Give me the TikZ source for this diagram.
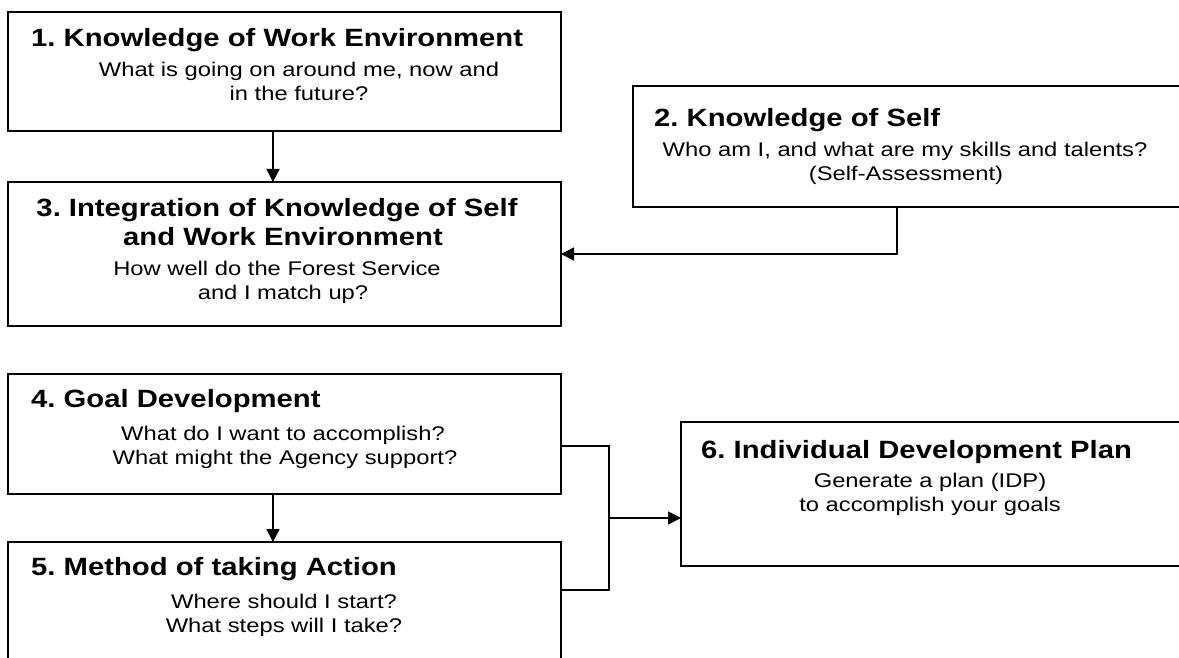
\documentclass[tikz,border=0pt]{standalone}
\usepackage{fontspec}
\setmainfont{Liberation Sans}[FakeStretch=1.2]
\newfontfamily\ttlfont{Liberation Sans}[FakeStretch=1.17]
\usetikzlibrary{arrows.meta}
\frenchspacing
\begin{document}
\begin{tikzpicture}[x=1pt,y=-1pt,
  box/.style={draw=black,line width=1.6pt,rectangle,inner sep=0pt,outer sep=0pt,anchor=north west,fill=white},
  ttl/.style={font=\ttlfont\fontsize{25}{28}\selectfont\bfseries,anchor=base west,inner sep=0pt},
  sub/.style={font=\fontsize{19.8}{23}\selectfont,anchor=base,inner sep=0pt},
  conn/.style={line width=1.6pt,draw=black},
  arr/.style={conn,-{Triangle[length=13pt,width=13pt]}}]
\useasboundingbox (0,0) rectangle (1179,658);
\clip (0,0) rectangle (1179,658);
\fill[white] (0,0) rectangle (1179,658);
% boxes
\node[box,minimum width=553pt,minimum height=119pt] (b1) at (8,12) {};
\node[box,minimum width=560pt,minimum height=121pt] (b2) at (633,86) {};
\node[box,minimum width=553pt,minimum height=144pt] (b3) at (8,182) {};
\node[box,minimum width=553pt,minimum height=120pt] (b4) at (8,374) {};
\node[box,minimum width=553pt,minimum height=130pt] (b5) at (8,542) {};
\node[box,minimum width=560pt,minimum height=144pt] (b6) at (681,422) {};
% texts box 1
\node[ttl] (t1) at (31,47) {1. Knowledge of Work Environment};
\node[sub] (s1a) at (299,77) {What is going on around me, now and};
\node[sub] (s1b) at (299,101) {in the future?};
% box 2
\node[ttl] (t2) at (654,127) {2. Knowledge of Self};
\node[sub] (s2a) at (905,157) {Who am I, and what are my skills and talents?};
\node[sub] (s2b) at (906,181) {(Self-Assessment)};
% box 3
\node[ttl,anchor=base] (t3a) at (277,216) {3. Integration of Knowledge of Self};
\node[ttl,anchor=base] (t3b) at (283,245) {and Work Environment};
\node[sub] (s3a) at (277,275) {How well do the Forest Service};
\node[sub] (s3b) at (283,299) {and I match up?};
% box 4
\node[ttl] (t4) at (31,407) {4. Goal Development};
\node[sub] (s4a) at (283,440) {What do I want to accomplish?};
\node[sub] (s4b) at (285,464) {What might the Agency support?};
% box 5
\node[ttl] (t5) at (31,575) {5. Method of taking Action};
\node[sub] (s5a) at (284,608) {Where should I start?};
\node[sub] (s5b) at (284,632) {What steps will I take?};
% box 6
\node[ttl] (t6) at (701,458) {6. Individual Development Plan};
\node[sub] (s6a) at (930,487) {Generate a plan (IDP)};
\node[sub] (s6b) at (930,511) {to accomplish your goals};
% connectors
\coordinate (c13) at (273,0);
\coordinate (j23) at (897,254);
\coordinate (k4) at (609,446);
\coordinate (k5) at (609,590);
\coordinate (km) at (609,518);
\draw[arr] (b1.south -| c13) -- (b3.north -| c13);
\draw[arr] (b2.south -| j23) |- (b3.east |- j23);
\draw[arr] (b4.south -| c13) -- (b5.north -| c13);
\draw[conn] (b4.east |- k4) -- (k4) -- (k5) -- (b5.east |- k5);
\draw[arr] (km) -- (b6.west |- km);
\end{tikzpicture}
\end{document}
